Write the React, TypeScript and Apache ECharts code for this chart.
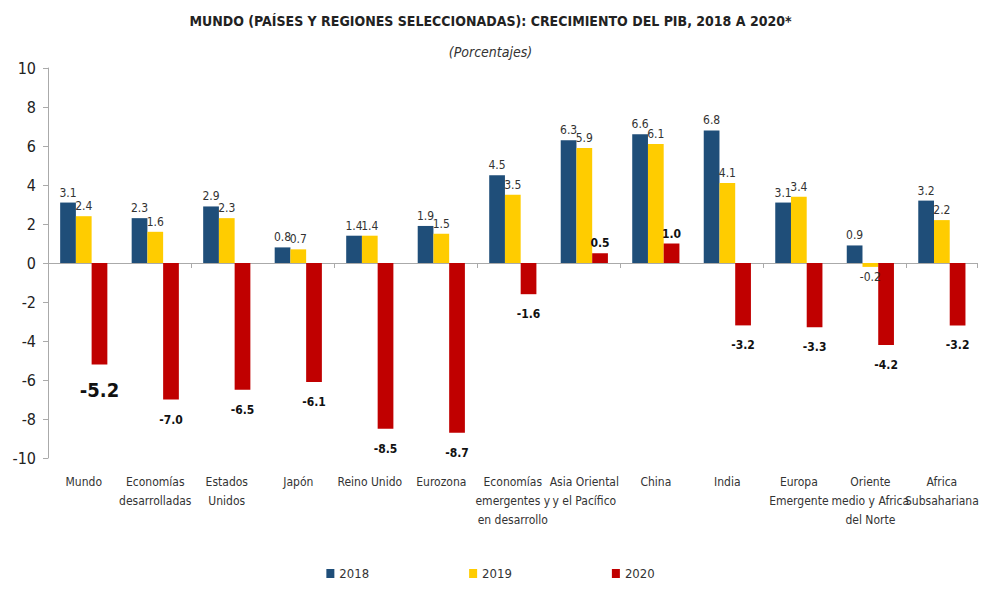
import React, { useEffect, useRef } from "react";
import * as echarts from "echarts";

const categories = [
  "Mundo",
  "Economías\ndesarrolladas",
  "Estados\nUnidos",
  "Japón",
  "Reino Unido",
  "Eurozona",
  "Economías\nemergentes y\nen desarrollo",
  "Asia Oriental\ny el Pacífico",
  "China",
  "India",
  "Europa\nEmergente",
  "Oriente\nmedio y Africa\ndel Norte",
  "Africa\nSubsahariana",
];
const values2018 = [3.1, 2.3, 2.9, 0.8, 1.4, 1.9, 4.5, 6.3, 6.6, 6.8, 3.1, 0.9, 3.2];
const values2019 = [2.4, 1.6, 2.3, 0.7, 1.4, 1.5, 3.5, 5.9, 6.1, 4.1, 3.4, -0.2, 2.2];
const values2020 = [-5.2, -7.0, -6.5, -6.1, -8.5, -8.7, -1.6, 0.5, 1.0, -3.2, -3.3, -4.2, -3.2];
const yTicks = [-10, -8, -6, -4, -2, 0, 2, 4, 6, 8, 10];

const FONT = "'DejaVu Sans Condensed', 'Liberation Sans Narrow', 'Noto Sans', sans-serif";

export default function App() {
  const ref = useRef<HTMLDivElement>(null);
  useEffect(() => {
    document.body.style.margin = "0";
    const chart = echarts.init(ref.current!, null, { renderer: "svg" });
    const fmt = (p: any) => Number(p.value).toFixed(1);
    const mk = (arr: number[], bold: boolean) =>
      arr.map((v, i) => ({
        value: v,
        label: {
          show: true,
          position: v < 0 ? "bottom" : "top",
          distance: bold && v < 0 ? (i === 0 ? 16 : 14) : 4,
          fontSize: bold && i === 0 ? 20 : 12,
          fontWeight: bold ? "bold" : "normal",
          color: bold ? "#111" : "#333",
          fontFamily: FONT,
          formatter: fmt,
        },
      }));
    chart.setOption({
      animation: false,
      textStyle: { fontFamily: FONT },
      title: [
        {
          text: "MUNDO (PAÍSES Y REGIONES SELECCIONADAS): CRECIMIENTO DEL PIB, 2018 A 2020*",
          left: "center",
          top: 9,
          textStyle: { fontSize: 14, fontWeight: "bold", color: "#222", fontFamily: FONT },
        },
        {
          text: "(Porcentajes)",
          left: "center",
          top: 40,
          textStyle: { fontSize: 14, fontStyle: "italic", fontWeight: "normal", color: "#333", fontFamily: FONT },
        },
      ],
      legend: {
        bottom: 4,
        left: "center",
        itemWidth: 8,
        itemHeight: 9,
        itemGap: 100,
        icon: "rect",
        textStyle: { fontSize: 13, color: "#333", fontFamily: FONT },
        data: ["2018", "2019", "2020"],
      },
      grid: { left: 48, right: -16, top: 68, bottom: 131, containLabel: false },
      xAxis: [
        {
          type: "category",
          data: categories,
          axisLine: { onZero: true, lineStyle: { color: "#aaa" } },
          axisTick: { show: true, length: 5, lineStyle: { color: "#aaa" } },
          axisLabel: { show: false },
        },
        {
          type: "category",
          data: categories,
          position: "bottom",
          axisLine: { show: false, onZero: false },
          axisTick: { show: false },
          axisLabel: {
            interval: 0,
            margin: 14,
            fontSize: 12,
            lineHeight: 19,
            color: "#333",
            fontFamily: FONT,
          },
        },
      ],
      yAxis: {
        type: "value",
        min: yTicks[0],
        max: yTicks[yTicks.length - 1],
        interval: 2,
        axisLine: { show: true, lineStyle: { color: "#aaa" } },
        axisTick: { show: true, length: 5, lineStyle: { color: "#aaa" } },
        splitLine: { show: false },
        axisLabel: { fontSize: 16, color: "#222", margin: 12, fontFamily: FONT },
      },
      series: [
        {
          name: "2018",
          type: "bar",
          xAxisIndex: 0,
          barGap: "0%",
          barCategoryGap: "34%",
          itemStyle: { color: "#1F4E79" },
          data: mk(values2018, false),
        },
        {
          name: "2019",
          type: "bar",
          xAxisIndex: 0,
          barGap: "0%",
          barCategoryGap: "34%",
          itemStyle: { color: "#FFCC00" },
          data: mk(values2019, false),
        },
        {
          name: "2020",
          type: "bar",
          xAxisIndex: 0,
          barGap: "0%",
          barCategoryGap: "34%",
          itemStyle: { color: "#C00000" },
          data: mk(values2020, true),
        },
      ],
    });
    return () => chart.dispose();
  }, []);
  return <div ref={ref} style={{ width: 981, height: 589 }} />;
}
